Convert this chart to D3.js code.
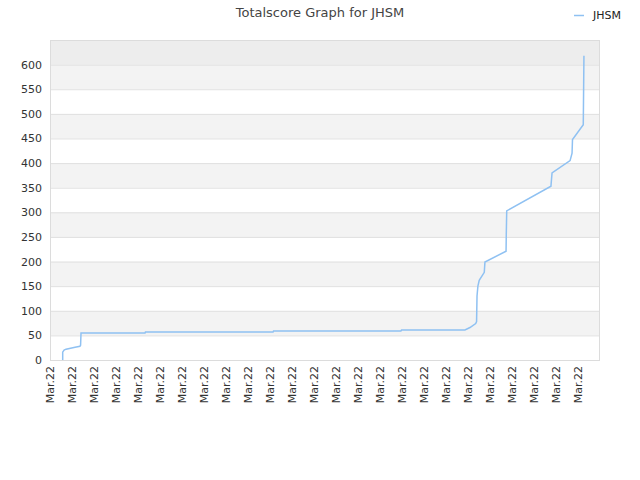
<!DOCTYPE html>
<html><head><meta charset="utf-8">
<script src="https://cdn.jsdelivr.net/npm/d3@7"></script>
<style>body{margin:0;background:#fff}text{font-family:"DejaVu Sans",sans-serif}</style>
</head><body><svg id="c" width="640" height="480"></svg>
<script>
const title = "Totalscore Graph for JHSM";
const seriesName = "JHSM";
const xTickLabels = Array.from({length:25}, () => "Mar.22");
const yTicks = [0,50,100,150,200,250,300,350,400,450,500,550,600];
// x in tick-units (position along the date axis), y = total score
const xs = [0.577,0.577,0.64,0.73,1.14,1.36,1.39,1.41,4.32,4.34,10.14,10.16,15.95,15.98,18.86,19.09,19.35,19.39,19.41,19.45,19.51,19.74,19.77,20.73,20.74,20.76,22.77,22.82,23.64,23.73,23.75,24.24,24.27];
const ys = [0,16,20,22,26,28,30,55,55,57,57,59,59,61,61,66,74,78,130,150,162,178,199,221,255,303,353,380,405,420,448,478,618];

const svg = d3.select("#c");
const L=50,R=600,T=40,B=360;
const x = d3.scaleLinear().domain([0,25]).range([L,R]);
const y = d3.scaleLinear().domain([0,650]).range([B,T]);

// bands
const bands = d3.range(0,650,50);
svg.selectAll("rect.band").data(bands).enter().append("rect")
  .attr("x",L).attr("width",R-L)
  .attr("y",d=>y(d+50)).attr("height",d=>y(d)-y(d+50))
  .attr("fill",d=> d===600 ? "#ededed" : ((d/50)%2===1 ? "#f3f3f3" : "#ffffff"));
// gridlines
svg.selectAll("line.g").data(yTicks.slice(1)).enter().append("line")
  .attr("x1",L).attr("x2",R).attr("y1",d=>y(d)+0.5).attr("y2",d=>y(d)+0.5)
  .attr("stroke","#e0e0e0");
// border
svg.append("rect").attr("x",L+0.5).attr("y",T+0.5).attr("width",R-L-1).attr("height",B-T)
  .attr("fill","none").attr("stroke","#dcdcdc");

// y axis labels
const yAxis = d3.axisLeft(y).tickValues(yTicks).tickSize(0).tickPadding(8);
const gy = svg.append("g").attr("transform",`translate(${L},0)`).call(yAxis);
gy.select(".domain").remove();
gy.selectAll("text").attr("fill","#333").style("font-size","11px").style("font-family","DejaVu Sans");

// x axis labels
const xAxis = d3.axisBottom(x).tickValues(d3.range(25)).tickFormat((d,i)=>xTickLabels[i]).tickSize(0).tickPadding(6);
const gx = svg.append("g").attr("transform",`translate(0,${B})`).call(xAxis);
gx.select(".domain").remove();
gx.selectAll("text").attr("fill","#333").style("font-size","11px").style("font-family","DejaVu Sans")
  .attr("text-anchor","end").attr("dy","0.35em")
  .attr("transform","translate(0,6) rotate(-90)").attr("x",0).attr("y",0);

// line
const data = xs.map((v,i)=>[v,ys[i]]);
svg.append("path").datum(data)
  .attr("fill","none").attr("stroke","#8fc1f2").attr("stroke-width",1.5)
  .attr("d",d3.line().x(d=>x(d[0])).y(d=>y(d[1])));

// title
svg.append("text").attr("x",320).attr("y",17).attr("text-anchor","middle")
  .attr("fill","#444").style("font-size","13px").text(title);
// legend
svg.append("line").attr("x1",574).attr("x2",584).attr("y1",15.5).attr("y2",15.5)
  .attr("stroke","#8fc1f2").attr("stroke-width",1.5);
svg.append("text").attr("x",593).attr("y",19).attr("fill","#222")
  .style("font-size","11px").text(seriesName);
</script></body></html>
